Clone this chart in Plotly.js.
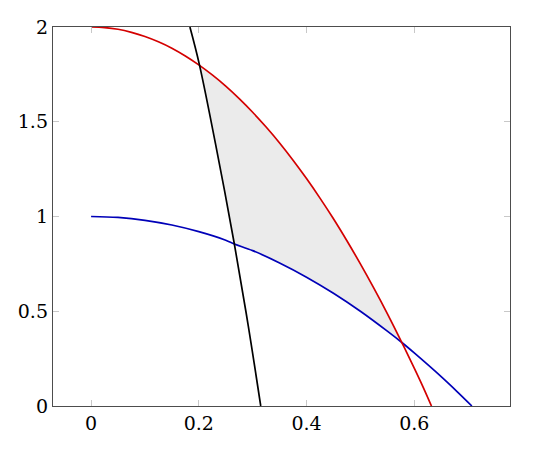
<!DOCTYPE html>
<html>
<head>
<meta charset="utf-8">
<script src="https://cdn.plot.ly/plotly-3.0.1.min.js"></script>
<style>html,body{margin:0;padding:0;background:#fff;}#chart{width:540px;height:450px;}</style>
</head>
<body>
<div id="chart"></div>
<script>
// Red curve
var redX = [0, 0.025, 0.05, 0.075, 0.1, 0.125, 0.15, 0.175, 0.2, 0.225, 0.25, 0.275, 0.3, 0.325, 0.35, 0.375, 0.4, 0.425, 0.45, 0.475, 0.5, 0.525, 0.55, 0.577, 0.6, 0.615, 0.632];
var redY = [2.0, 1.997, 1.988, 1.972, 1.95, 1.922, 1.888, 1.847, 1.8, 1.747, 1.688, 1.622, 1.55, 1.472, 1.388, 1.297, 1.2, 1.097, 0.988, 0.872, 0.75, 0.622, 0.488, 0.335, 0.2, 0.109, 0.0];
// Blue curve
var blueX = [0, 0.05, 0.1, 0.15, 0.2, 0.25, 0.266, 0.3, 0.35, 0.4, 0.45, 0.5, 0.55, 0.577, 0.6, 0.65, 0.68, 0.707];
var blueY = [1.0, 0.995, 0.98, 0.955, 0.92, 0.875, 0.855, 0.82, 0.755, 0.68, 0.595, 0.5, 0.395, 0.335, 0.28, 0.155, 0.075, 0.0];
// Black curve
var blackX = [0.1835, 0.201, 0.234, 0.266, 0.292, 0.315];
var blackY = [2.0, 1.803, 1.34, 0.855, 0.42, 0.0];
// Boundary points of the shaded region
var shadeStartX = 0.201, shadeEndX = 0.577, shadeLowX = 0.266;

var xTicks = [0, 0.2, 0.4, 0.6];
var yTicks = [0, 0.5, 1, 1.5, 2];

// Build shaded region from the series
var sx = [], sy = [];
for (var i = 0; i < blackX.length; i++) if (blackX[i] >= shadeStartX - 1e-9 && blackX[i] <= shadeLowX + 1e-9) { sx.push(blackX[i]); sy.push(blackY[i]); }
sx.reverse(); sy.reverse();
var fx = [], fy = [];
for (var i = 0; i < sx.length; i++) { fx.push(sx[i]); fy.push(sy[i]); }
for (var i = 0; i < redX.length; i++) if (redX[i] > shadeStartX && redX[i] <= shadeEndX + 1e-9) { fx.push(redX[i]); fy.push(redY[i]); }
var bx = [], by = [];
for (var i = 0; i < blueX.length; i++) if (blueX[i] >= shadeLowX - 1e-9 && blueX[i] < shadeEndX) { bx.push(blueX[i]); by.push(blueY[i]); }
for (var i = bx.length - 1; i >= 0; i--) { fx.push(bx[i]); fy.push(by[i]); }

var traces = [
  {x: fx, y: fy, mode: 'lines', fill: 'toself', fillcolor: '#ebebeb', line: {width: 0, color: 'rgba(0,0,0,0)', shape: 'linear'}, hoverinfo: 'skip'},
  {x: blueX, y: blueY, mode: 'lines', line: {color: '#0000b8', width: 1.7, shape: 'spline', smoothing: 1}},
  {x: redX, y: redY, mode: 'lines', line: {color: '#d40000', width: 1.7, shape: 'spline', smoothing: 1}},
  {x: blackX, y: blackY, mode: 'lines', line: {color: '#000000', width: 1.7, shape: 'spline', smoothing: 1}}
];

var fontFam = '"DejaVu Serif", serif';
var axisCommon = {
  showgrid: false, zeroline: false, showline: true, linecolor: '#4d4d4d', linewidth: 1.2,
  mirror: 'ticks', ticks: 'inside', ticklen: 6, tickwidth: 1, tickcolor: '#c8c8c8',
  tickfont: {family: fontFam, size: 19, color: '#000'}
};

var layout = {
  width: 540, height: 450,
  margin: {l: 53, r: 30, t: 27, b: 44},
  paper_bgcolor: '#fff', plot_bgcolor: '#fff',
  showlegend: false,
  font: {family: fontFam},
  xaxis: Object.assign({}, axisCommon, {range: [-0.0707, 0.7778], tickvals: xTicks, ticktext: xTicks.map(String)}),
  yaxis: Object.assign({}, axisCommon, {range: [0, 2], tickvals: yTicks, ticktext: yTicks.map(String)})
};

Plotly.newPlot('chart', traces, layout, {staticPlot: true, displayModeBar: false});
</script>
</body>
</html>
